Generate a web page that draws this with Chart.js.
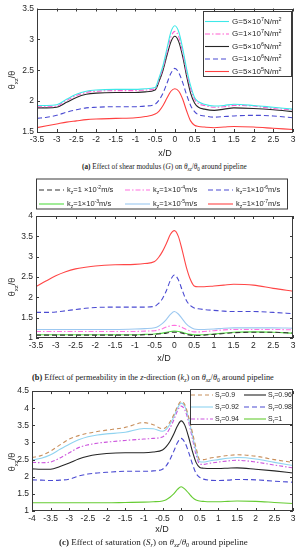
<!DOCTYPE html>
<html><head><meta charset="utf-8">
<script src="https://cdn.jsdelivr.net/npm/chart.js@4.4.1/dist/chart.umd.min.js"></script>
<style>
body{margin:0;background:#fff;width:299px;height:550px;position:relative;overflow:hidden}
canvas{position:absolute;left:0}
.cap{position:absolute;font-family:"Liberation Serif",serif;font-size:7.3px;line-height:9px;color:#222;white-space:nowrap}
.cap sub{font-size:70%;vertical-align:baseline;position:relative;top:0.3em}
</style></head><body>
<canvas id="ca" width="299" height="162" style="top:0"></canvas>
<div class="cap" data-w="165" style="left:82px;top:163px"><b>(a)</b> Effect of shear modulus (<i>G</i>) on <i>θ</i><sub><i>xz</i></sub>/<i>θ</i><sub>0</sub> around pipeline</div>
<canvas id="cb" width="299" height="190" style="top:175px"></canvas>
<div class="cap" data-w="242" style="left:32px;top:373px"><b>(b)</b> Effect of permeability in the <i>z</i>-direction (<i>k<sub>z</sub></i>) on <i>θ</i><sub><i>xz</i></sub>/<i>θ</i><sub>0</sub> around pipeline</div>
<canvas id="cc" width="299" height="155" style="top:383px"></canvas>
<div class="cap" data-w="189" style="left:59px;top:538px"><b>(c)</b> Effect of saturation (<i>S<sub>r</sub></i>) on <i>θ</i><sub><i>xz</i></sub>/<i>θ</i><sub>0</sub> around pipeline</div>
<script>
// ---------- DATA ----------
const xA = [-3.5,-3.25,-3,-2.75,-2.5,-2.25,-2,-1.5,-1,-0.75,-0.5,-0.4,-0.3,-0.2,-0.1,0,0.1,0.2,0.3,0.4,0.5,0.6,0.75,1,1.25,1.5,2,2.5,3];
const aG5e7 = [1.93,1.93,1.94,2.03,2.11,2.16,2.18,2.19,2.19,2.2,2.22,2.38,2.58,2.85,3.12,3.22,3.12,2.85,2.52,2.25,2.06,1.99,1.95,1.92,1.93,1.95,1.93,1.9,1.87];
const aG1e7 = [1.91,1.91,1.92,2.01,2.09,2.14,2.16,2.17,2.17,2.18,2.2,2.35,2.54,2.79,3.04,3.13,3.04,2.78,2.46,2.2,2.03,1.96,1.93,1.9,1.91,1.93,1.92,1.88,1.86];
const aG5e6 = [1.89,1.89,1.9,1.98,2.06,2.11,2.13,2.14,2.14,2.15,2.18,2.32,2.5,2.74,2.96,3.05,2.96,2.72,2.4,2.13,1.97,1.9,1.87,1.85,1.87,1.89,1.88,1.86,1.83];
const aG1e6 = [1.72,1.74,1.77,1.82,1.86,1.89,1.9,1.91,1.91,1.92,1.95,2.02,2.13,2.29,2.45,2.53,2.46,2.3,2.1,1.93,1.83,1.78,1.76,1.74,1.75,1.76,1.77,1.76,1.73];
const aG5e5 = [1.57,1.6,1.63,1.66,1.68,1.7,1.71,1.72,1.73,1.75,1.79,1.84,1.93,2.05,2.16,2.2,2.16,2.03,1.84,1.68,1.61,1.59,1.58,1.57,1.58,1.59,1.58,1.56,1.54];
const labelsA = ["G=5×10^{7}N/m^{2}","G=1×10^{7}N/m^{2}","G=5×10^{6}N/m^{2}","G=1×10^{6}N/m^{2}","G=5×10^{5}N/m^{2}"];
const ticksAX = [-3.5,-3,-2.5,-2,-1.5,-1,-0.5,0,0.5,1,1.5,2,2.5,3];
const ticksAY = [1.5,2,2.5,3,3.5];

const xB = [-3.5,-3.25,-3,-2.75,-2.5,-2.25,-2,-1.5,-1,-0.75,-0.5,-0.4,-0.3,-0.2,-0.1,0,0.1,0.2,0.3,0.4,0.5,0.6,0.75,1,1.25,1.5,2,2.5,3];
const bK1e2 = [1.07,1.07,1.07,1.07,1.07,1.07,1.07,1.07,1.07,1.08,1.09,1.1,1.11,1.12,1.14,1.14,1.14,1.12,1.09,1.07,1.06,1.06,1.07,1.09,1.11,1.13,1.14,1.14,1.12];
const bK1e3 = [1.08,1.08,1.08,1.08,1.08,1.08,1.08,1.08,1.08,1.09,1.1,1.11,1.12,1.14,1.16,1.17,1.16,1.14,1.11,1.09,1.08,1.08,1.08,1.1,1.12,1.14,1.15,1.14,1.12];
const bK1e4 = [1.16,1.16,1.16,1.16,1.16,1.16,1.16,1.16,1.16,1.17,1.18,1.2,1.23,1.27,1.3,1.31,1.3,1.26,1.21,1.17,1.15,1.15,1.16,1.18,1.2,1.21,1.21,1.21,1.2];
const bK1e5 = [1.21,1.21,1.21,1.21,1.21,1.21,1.21,1.21,1.22,1.23,1.25,1.29,1.36,1.46,1.58,1.65,1.59,1.47,1.35,1.27,1.22,1.21,1.21,1.22,1.24,1.25,1.25,1.25,1.24];
const bK1e6 = [1.63,1.63,1.64,1.67,1.7,1.73,1.75,1.76,1.76,1.76,1.78,1.85,1.97,2.17,2.42,2.55,2.43,2.17,1.93,1.8,1.74,1.72,1.7,1.68,1.66,1.65,1.65,1.63,1.6];
const bK1e7 = [2.26,2.4,2.53,2.63,2.7,2.74,2.77,2.8,2.81,2.83,2.88,2.98,3.13,3.33,3.55,3.64,3.5,3.15,2.75,2.45,2.28,2.26,2.26,2.28,2.3,2.32,2.3,2.22,2.15];
const labelsB = ["k_{z}=1 ×10^{-2}m/s","k_{z}=1×10^{-3}m/s","k_{z}=1×10^{-4}m/s","k_{z}=1×10^{-5}m/s","k_{z}=1×10^{-6}m/s","k_{z}=1×10^{-7}m/s"];
const ticksBX = [-3.5,-3,-2.5,-2,-1.5,-1,-0.5,0,0.5,1,1.5,2,2.5,3];
const ticksBY = [1,1.5,2,2.5,3,3.5,4];

const xC = [-4,-3.75,-3.5,-3.25,-3,-2.75,-2.5,-2.25,-2,-1.5,-1,-0.75,-0.5,-0.4,-0.3,-0.2,-0.1,0,0.1,0.2,0.3,0.4,0.5,0.6,0.75,1,1.25,1.5,2,2.5,3];
const cS090 = [2.56,2.62,2.75,2.93,3.1,3.2,3.27,3.32,3.36,3.44,3.58,3.52,3.4,3.45,3.6,3.8,4.05,4.2,4.1,3.75,3.3,2.85,2.5,2.5,2.54,2.58,2.62,2.64,2.6,2.5,2.42];
const cS092 = [2.49,2.54,2.64,2.8,2.95,3.08,3.17,3.22,3.25,3.3,3.41,3.4,3.33,3.38,3.53,3.74,4.0,4.15,4.05,3.7,3.22,2.75,2.44,2.43,2.46,2.5,2.54,2.56,2.52,2.42,2.33];
const cS094 = [2.42,2.41,2.43,2.55,2.7,2.85,2.93,2.98,3.01,3.06,3.1,3.12,3.16,3.25,3.42,3.65,3.92,4.06,3.95,3.6,3.12,2.65,2.37,2.36,2.39,2.43,2.46,2.48,2.43,2.34,2.26];
const cS096 = [2.23,2.22,2.22,2.3,2.4,2.52,2.6,2.65,2.68,2.7,2.7,2.72,2.78,2.88,3.03,3.24,3.48,3.63,3.5,3.16,2.75,2.42,2.27,2.25,2.24,2.24,2.25,2.26,2.22,2.17,2.11];
const cS098 = [1.91,1.9,1.89,1.9,1.93,2.02,2.08,2.11,2.13,2.16,2.16,2.17,2.22,2.32,2.5,2.74,2.99,3.12,3.0,2.72,2.38,2.1,1.98,1.93,1.9,1.89,1.9,1.92,1.91,1.87,1.84];
const cS100 = [1.24,1.24,1.24,1.24,1.24,1.24,1.24,1.24,1.24,1.25,1.26,1.27,1.29,1.33,1.4,1.5,1.63,1.71,1.64,1.52,1.4,1.32,1.29,1.28,1.27,1.27,1.28,1.29,1.28,1.25,1.22];
const labelsC = ["S_{r}=0.9","S_{r}=0.92","S_{r}=0.94","S_{r}=0.96","S_{r}=0.98","S_{r}=1"];
const ticksCX = [-4,-3.5,-3,-2.5,-2,-1.5,-1,-0.5,0,0.5,1,1.5,2,2.5,3];
const ticksCY = [1,1.5,2,2.5,3,3.5,4,4.5];

// ---------- STYLES ----------
const SANS = '"Liberation Sans", Arial, sans-serif';
const TXT = '#262626';
const colorsA = ['#3ee8e8','#ff5fd0','#262626','#4b4bd2','#ff4040'];
const dashesA = [[],[5,2,1.5,2],[],[5,3],[]];
const colorsB = ['#333333','#55dd44','#ff70e0','#9cc8f0','#4b4bd2','#ff4646'];
const dashesB = [[5,3],[],[5,2,1.5,2],[],[5,3],[]];
const colorsC = ['#c88f5c','#8fd3f0','#cc55dd','#262626','#4b4bd2','#66cc33'];
const dashesC = [[4,3],[],[4,2,1.5,2],[],[5,3],[]];

// ---------- CAPTION FIT ----------
document.querySelectorAll('.cap').forEach(el=>{
  const target=+el.dataset.w; const w=el.getBoundingClientRect().width;
  if(w>0){el.style.fontSize=(7.3*target/w).toFixed(2)+'px';}
});

// ---------- RICH TEXT ----------
function runsOf(str){
  const runs=[];let buf='',i=0;
  while(i<str.length){
    const c=str[i];
    if((c==='_'||c==='^')&&str[i+1]==='{'){
      if(buf){runs.push({t:buf,m:0});buf='';}
      const j=str.indexOf('}',i);
      runs.push({t:str.slice(i+2,j),m:c==='_'?-1:1});i=j+1;
    } else {buf+=c;i++;}
  }
  if(buf)runs.push({t:buf,m:0});
  return runs;
}
function drawRich(ctx,str,x,y,size,align){
  const runs=runsOf(str), sm=size*0.68;
  let w=0;
  runs.forEach(r=>{ctx.font=(r.m?sm:size)+'px '+SANS;r.w=ctx.measureText(r.t).width;w+=r.w;});
  let cx=align==='center'?x-w/2:(align==='right'?x-w:x);
  ctx.textBaseline='alphabetic';ctx.textAlign='left';
  const base=y+size*0.36;
  runs.forEach(r=>{
    ctx.font=(r.m?sm:size)+'px '+SANS;
    const dy=r.m===1?-size*0.42:(r.m===-1?size*0.28:0);
    ctx.fillText(r.t,cx,base+dy);cx+=r.w;
  });
}

// ---------- PLUGINS ----------
const framePlugin={
  id:'frame',
  afterDatasetsDraw(chart,args,o){
    const ctx=chart.ctx,a=chart.chartArea,xs=chart.scales.x,ys=chart.scales.y;
    ctx.save();
    ctx.strokeStyle='#3a3a3a';ctx.lineWidth=1;
    ctx.strokeRect(Math.round(a.left)+0.5,Math.round(a.top)+0.5,Math.round(a.right-a.left)-1,Math.round(a.bottom-a.top)-1);
    ctx.beginPath();
    xs.ticks.forEach(t=>{const p=Math.round(xs.getPixelForValue(t.value))+0.5;
      ctx.moveTo(p,a.bottom);ctx.lineTo(p,a.bottom-3);ctx.moveTo(p,a.top);ctx.lineTo(p,a.top+3);});
    ys.ticks.forEach(t=>{const p=Math.round(ys.getPixelForValue(t.value))+0.5;
      ctx.moveTo(a.left,p);ctx.lineTo(a.left+3,p);ctx.moveTo(a.right,p);ctx.lineTo(a.right-3,p);});
    ctx.stroke();
    ctx.fillStyle=TXT;
    drawRich(ctx,o.xTitle.text,o.xTitle.x,o.xTitle.y,9,'center');
    ctx.translate(o.yTitle.x,o.yTitle.y);ctx.rotate(-Math.PI/2);
    drawRich(ctx,o.yTitle.text,0,0,9,'center');
    ctx.restore();
  }
};
const boxLegend={
  id:'boxLegend',
  afterDraw(chart,args,o){
    const ctx=chart.ctx,b=o.box;
    ctx.save();
    ctx.fillStyle='#fff';ctx.fillRect(b[0],b[1],b[2],b[3]);
    ctx.strokeStyle='#3a3a3a';ctx.lineWidth=1;ctx.strokeRect(b[0]+0.5,b[1]+0.5,b[2]-1,b[3]-1);
    chart.data.datasets.forEach((d,i)=>{
      const [x,y]=o.items[i];
      ctx.strokeStyle=d.borderColor;ctx.lineWidth=d.borderWidth;ctx.setLineDash(d.borderDash||[]);
      ctx.beginPath();ctx.moveTo(x,y+0.5);ctx.lineTo(x+o.len,y+0.5);ctx.stroke();
      ctx.setLineDash([]);ctx.fillStyle=TXT;
      drawRich(ctx,d.label,x+o.len+o.gap,y,o.size,'left');
    });
    ctx.restore();
  }
};

function pts(xs,ys){return xs.map((x,i)=>({x:x,y:ys[i]}));}
function build(id,c){
  const ds=c.series.map((ys,i)=>({label:c.labels[i],data:pts(c.xs,ys),borderColor:c.colors[i],borderDash:c.dashes[i],
    borderWidth:1.1,pointRadius:0,fill:false,cubicInterpolationMode:'monotone'}));
  return new Chart(document.getElementById(id),{
    type:'line',data:{datasets:ds},
    options:{responsive:false,animation:false,devicePixelRatio:1,
      layout:{padding:{left:0,right:c.padR,top:c.padT,bottom:0}},
      plugins:{legend:{display:false},tooltip:{enabled:false},frame:c.frame,boxLegend:c.legend},
      scales:{
        x:{type:'linear',min:c.xmin,max:c.xmax,
          afterBuildTicks:s=>{s.ticks=c.xt.map(v=>({value:v}));},
          afterFit:s=>{s.height=c.xh;},
          grid:{display:false,drawTicks:false},border:{display:false},
          ticks:{font:{family:SANS,size:8.5},color:TXT,padding:2.5,maxRotation:0,autoSkip:false,callback:v=>String(v)}},
        y:{type:'linear',min:c.ymin,max:c.ymax,
          afterBuildTicks:s=>{s.ticks=c.yt.map(v=>({value:v}));},
          afterFit:s=>{s.width=c.yw;},
          grid:{display:false,drawTicks:false},border:{display:false},
          ticks:{font:{family:SANS,size:8.5},color:TXT,padding:3,autoSkip:false,callback:v=>String(v)}}
      }
    },
    plugins:[framePlugin,boxLegend]
  });
}

build('ca',{xs:xA,series:[aG5e7,aG1e7,aG5e6,aG1e6,aG5e5],labels:labelsA,colors:colorsA,dashes:dashesA,
  xmin:-3.5,xmax:3,ymin:1.5,ymax:3.5,xt:ticksAX,yt:ticksAY,yw:37,xh:30,padR:6,padT:8.5,
  frame:{xTitle:{text:'x/D',x:165,y:153},yTitle:{text:'θ_{xz}/θ',x:12,y:80}},
  legend:{box:[203,11,89,66],items:[[205,21],[205,33.5],[205,46],[205,58.5],[205,71]],len:24,gap:3,size:8}});

build('cb',{xs:xB,series:[bK1e2,bK1e3,bK1e4,bK1e5,bK1e6,bK1e7],labels:labelsB,colors:colorsB,dashes:dashesB,
  xmin:-3.5,xmax:3,ymin:1,ymax:4,xt:ticksBX,yt:ticksBY,yw:36,xh:27,padR:6,padT:41,
  frame:{xTitle:{text:'x/D',x:164,y:183},yTitle:{text:'θ_{xz}/θ',x:12,y:112}},
  legend:{box:[36,3.5,252,31],items:[[39,14.5],[39,28.5],[125,14.5],[125,28.5],[208,14.5],[208,28.5]],len:25,gap:3,size:7.5}});

build('cc',{xs:xC,series:[cS090,cS092,cS094,cS096,cS098,cS100],labels:labelsC,colors:colorsC,dashes:dashesC,
  xmin:-4,xmax:3,ymin:1,ymax:4.5,xt:ticksCX,yt:ticksCY,yw:32,xh:27,padR:6,padT:6,
  frame:{xTitle:{text:'x/D',x:162,y:146},yTitle:{text:'θ_{xz}/θ',x:12,y:79}},
  legend:{box:[190,6,103,36],items:[[191,11.5],[191,23.5],[191,35.5],[244,11.5],[244,23.5],[244,35.5]],len:22,gap:2,size:7}});
</script>
</body></html>
